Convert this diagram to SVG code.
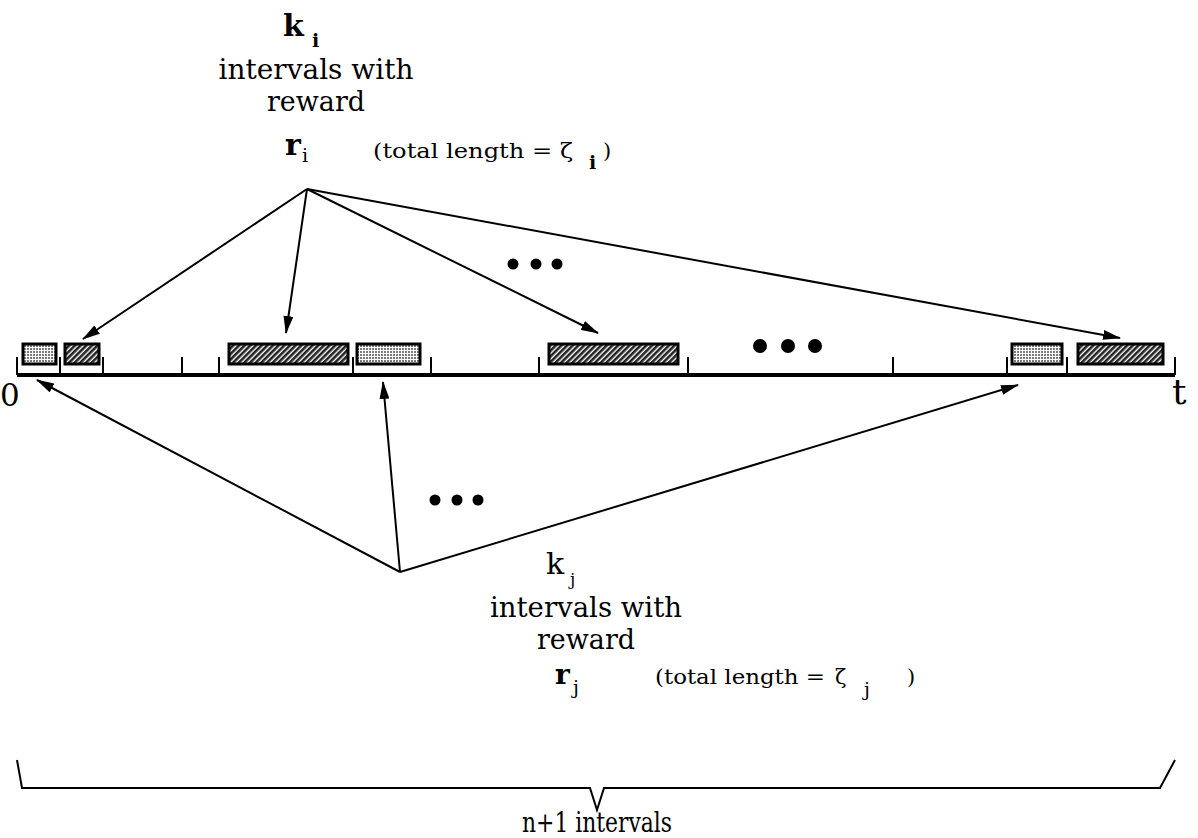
<svg xmlns="http://www.w3.org/2000/svg" width="1198" height="838" viewBox="0 0 1198 838">
<style>
text{font-family:"DejaVu Serif","Liberation Serif",serif;fill:#000}
.lbl{font-size:27px}
.sm{font-size:21px}
.sub{font-size:19px}
.big{font-size:30px}
.b{font-weight:bold}
.tick{stroke:#000;stroke-width:2}
.conn{stroke:#000;stroke-width:2;fill:none;marker-end:url(#ah)}
.boxL{fill:url(#dots);stroke:#000;stroke-width:3}
.boxD{fill:url(#hatch);stroke:#000;stroke-width:3}
.dot{fill:#000}
</style>
<defs>
<marker id="ah" markerWidth="18" markerHeight="10" refX="17" refY="5" orient="auto" markerUnits="userSpaceOnUse">
<path d="M0,0 L18,5 L0,10 Z" fill="#000"/>
</marker>
<pattern id="dots" width="3" height="3" patternUnits="userSpaceOnUse">
<rect width="3" height="3" fill="#ffffff"/>
<rect width="2" height="2" fill="#7a7a7a"/>
</pattern>
<pattern id="hatch" width="4" height="4" patternUnits="userSpaceOnUse" patternTransform="rotate(45)">
<rect width="4" height="4" fill="#ffffff"/>
<rect width="2.6" height="4" fill="#222"/>
</pattern>
</defs>

<g id="timeline">
<line x1="17" y1="375" x2="1175" y2="375" stroke="#000" stroke-width="4"/>
<line class="tick" x1="17" y1="357" x2="17" y2="375"/>
<line class="tick" x1="60" y1="357" x2="60" y2="375"/>
<line class="tick" x1="103" y1="357" x2="103" y2="375"/>
<line class="tick" x1="182" y1="357" x2="182" y2="375"/>
<line class="tick" x1="219" y1="357" x2="219" y2="375"/>
<line class="tick" x1="353" y1="357" x2="353" y2="375"/>
<line class="tick" x1="431" y1="357" x2="431" y2="375"/>
<line class="tick" x1="539" y1="357" x2="539" y2="375"/>
<line class="tick" x1="688" y1="357" x2="688" y2="375"/>
<line class="tick" x1="893" y1="357" x2="893" y2="375"/>
<line class="tick" x1="1007" y1="357" x2="1007" y2="375"/>
<line class="tick" x1="1067" y1="357" x2="1067" y2="375"/>
<line class="tick" x1="1175" y1="357" x2="1175" y2="375"/>
</g>

<g id="interval-boxes">
<rect class="boxL" x="23" y="344" width="33" height="20"/>
<rect class="boxD" x="65" y="344" width="34" height="20"/>
<rect class="boxD" x="229" y="344" width="119" height="20"/>
<rect class="boxL" x="357" y="344" width="63" height="20"/>
<rect class="boxD" x="549" y="344" width="129" height="20"/>
<rect class="boxL" x="1012" y="344" width="50" height="20"/>
<rect class="boxD" x="1078" y="344" width="85" height="20"/>
</g>

<g id="ellipsis-big">
<circle class="dot" cx="760" cy="346" r="7"/>
<circle class="dot" cx="788" cy="346" r="7"/>
<circle class="dot" cx="815" cy="346" r="7"/>
</g>
<g id="ellipsis-top">
<circle class="dot" cx="513" cy="264" r="5.5"/>
<circle class="dot" cx="536" cy="264" r="5.5"/>
<circle class="dot" cx="557" cy="264" r="5.5"/>
</g>
<g id="ellipsis-bottom">
<circle class="dot" cx="435" cy="500" r="5.5"/>
<circle class="dot" cx="457" cy="500" r="5.5"/>
<circle class="dot" cx="478" cy="500" r="5.5"/>
</g>

<g id="axis-labels">
<text x="0" y="406" style="font-size:31px">0</text>
<text x="1172" y="404" style="font-size:36px">t</text>
</g>

<g id="label-i">
<text class="big b" x="283" y="36">k</text>
<text class="sub b" x="312" y="47">i</text>
<text class="lbl" x="316" y="79" text-anchor="middle" textLength="195" lengthAdjust="spacingAndGlyphs">intervals with</text>
<text class="lbl" x="316" y="111" text-anchor="middle" textLength="98" lengthAdjust="spacingAndGlyphs">reward</text>
<text class="big b" x="285" y="155">r</text>
<text class="sub" x="302" y="162">i</text>
<text class="sm" x="373" y="158" textLength="200" lengthAdjust="spacingAndGlyphs">(total length = ζ</text>
<text class="sub b" x="589" y="169">i</text>
<text class="sm" x="603" y="158">)</text>
</g>

<g id="label-j">
<text class="big" x="546" y="574">k</text>
<text x="570" y="585" style="font-size:17px">j</text>
<text class="lbl" x="586" y="617" text-anchor="middle" textLength="192" lengthAdjust="spacingAndGlyphs">intervals with</text>
<text class="lbl" x="586" y="649" text-anchor="middle" textLength="98" lengthAdjust="spacingAndGlyphs">reward</text>
<text class="b" x="555" y="684" style="font-size:28px">r</text>
<text class="sub" x="573" y="694">j</text>
<text class="sm" x="655" y="684" textLength="170" lengthAdjust="spacingAndGlyphs">(total length =</text>
<text class="sm" x="835" y="684">ζ</text>
<text class="sub" x="864" y="696">j</text>
<text class="sm" x="907" y="684">)</text>
</g>

<g id="connectors">
<line class="conn" x1="307" y1="189" x2="83" y2="339"/>
<line class="conn" x1="307" y1="189" x2="286" y2="333"/>
<line class="conn" x1="307" y1="189" x2="598" y2="333"/>
<line class="conn" x1="307" y1="189" x2="1120" y2="338"/>
<line class="conn" x1="400" y1="572" x2="37" y2="380"/>
<line class="conn" x1="400" y1="572" x2="383" y2="382"/>
<line class="conn" x1="400" y1="572" x2="1018" y2="385"/>
</g>

<g id="brace">
<path d="M17,760 L22,788 L590,788 L597,810 L604,788 L1160,788 L1175,760" fill="none" stroke="#000" stroke-width="2"/>
<text class="lbl" x="597" y="832" text-anchor="middle" textLength="150" lengthAdjust="spacingAndGlyphs">n+1 intervals</text>
</g>
</svg>
